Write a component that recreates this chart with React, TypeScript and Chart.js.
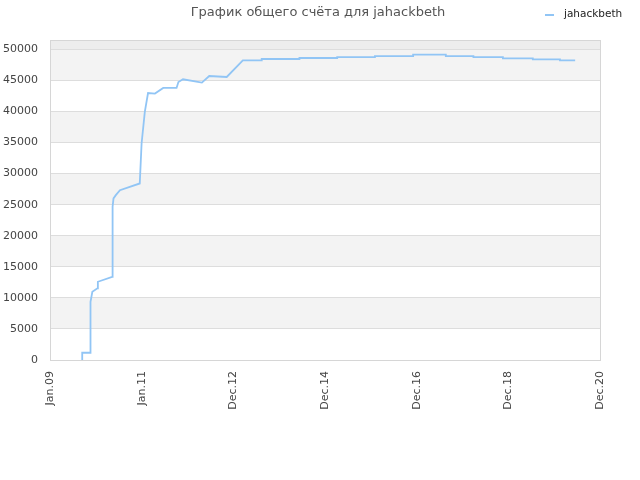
import { useEffect, useRef } from "react";
import Chart from "chart.js/auto";

const TITLE = "График общего счёта для jahackbeth";
const SERIES = "jahackbeth";
const xLabels = ["Jan.09", "Jan.11", "Dec.12", "Dec.14", "Dec.16", "Dec.18", "Dec.20"];

// decimal years
const dates = [
  2009.70, 2009.70, 2009.87, 2009.87, 2009.89, 2009.92, 2010.03, 2010.04, 2010.35, 2010.36,
  2010.38, 2010.43, 2010.52, 2010.95, 2010.99, 2011.06, 2011.13, 2011.28, 2011.46, 2011.75,
  2011.79, 2011.89, 2012.30, 2012.46, 2012.84, 2013.19, 2013.60, 2013.60, 2014.42, 2014.42,
  2015.24, 2015.24, 2016.06, 2016.06, 2016.89, 2016.89, 2017.60, 2017.60, 2018.20, 2018.20,
  2018.84, 2018.84, 2019.49, 2019.49, 2020.08, 2020.08, 2020.41,
];
const scores = [
  0, 1170, 1170, 5470, 9370, 10980, 11530, 12590, 13390, 24700,
  26000, 26530, 27330, 28410, 34840, 39920, 42970, 42880, 43780, 43780,
  44740, 45180, 44650, 45710, 45550, 48230, 48230, 48440, 48440, 48600,
  48600, 48760, 48760, 48920, 48920, 49150, 49150, 48920, 48920, 48760,
  48760, 48550, 48550, 48390, 48390, 48230, 48230,
];

const X_MIN = 2009.0;
const X_MAX = 2020.95;
const Y_MAX = 51500;
const LINE = "#91c5f5";
const FONT = "'DejaVu Sans', sans-serif";

const decor = {
  id: "decor",
  beforeDraw(chart: any) {
    const { ctx, chartArea: a, scales } = chart;
    const y = scales.y;
    ctx.save();
    ctx.fillStyle = "#ffffff";
    ctx.fillRect(0, 0, chart.width, chart.height);
    for (let k = 0; k * 5000 < Y_MAX; k++) {
      const lo = k * 5000;
      const hi = Math.min((k + 1) * 5000, Y_MAX);
      let fill = k % 2 === 1 ? "#f3f3f3" : "#ffffff";
      if (lo >= 50000) fill = "#ededed";
      const top = y.getPixelForValue(hi);
      const bot = y.getPixelForValue(lo);
      ctx.fillStyle = fill;
      ctx.fillRect(a.left, top, a.right - a.left, bot - top);
    }
    ctx.restore();
  },
  afterDraw(chart: any) {
    const { ctx, chartArea: a } = chart;
    ctx.save();
    ctx.strokeStyle = "#d6d6d6";
    ctx.lineWidth = 1;
    ctx.strokeRect(a.left + 0.5, a.top + 0.5, a.right - a.left, a.bottom - a.top);
    // title
    ctx.fillStyle = "#555555";
    ctx.font = "13px " + FONT;
    ctx.textAlign = "center";
    ctx.textBaseline = "middle";
    ctx.fillText(TITLE, 318, 13);
    // legend
    ctx.strokeStyle = LINE;
    ctx.lineWidth = 2;
    ctx.beginPath();
    ctx.moveTo(545, 15);
    ctx.lineTo(554, 15);
    ctx.stroke();
    ctx.fillStyle = "#222222";
    ctx.font = "10.5px " + FONT;
    ctx.textAlign = "left";
    ctx.fillText(SERIES, 564, 14);
    ctx.restore();
  },
};

const ScoreChart = () => {
  const chartRef: any = useRef(null);
  useEffect(() => {
    const ctx = chartRef.current.getContext("2d");
    const theChart = new Chart(ctx, {
      type: "line",
      data: {
        datasets: [
          {
            label: SERIES,
            data: dates.map((d, i) => ({ x: d, y: scores[i] })),
            borderColor: LINE,
            borderWidth: 1.8,
            pointRadius: 0,
            fill: false,
            tension: 0,
          },
        ],
      },
      options: {
        animation: false,
        responsive: true,
        maintainAspectRatio: false,
        layout: { padding: { top: 40, right: 40, left: 0, bottom: 0 } },
        plugins: {
          legend: { display: false },
          title: { display: false },
          tooltip: { enabled: false },
        },
        scales: {
          x: {
            type: "linear",
            min: X_MIN,
            max: X_MAX,
            afterBuildTicks(scale: any) {
              scale.ticks = xLabels.map((_, i) => ({
                value: X_MIN + ((X_MAX - X_MIN) * i) / (xLabels.length - 1),
              }));
            },
            afterFit(scale: any) {
              scale.height = 120;
            },
            grid: { display: false, drawTicks: false },
            border: { display: false },
            ticks: {
              autoSkip: false,
              minRotation: 90,
              maxRotation: 90,
              padding: 11,
              color: "#444444",
              font: { family: FONT, size: 11 },
              callback: (_v: any, i: number) => xLabels[i],
            },
          },
          y: {
            min: 0,
            max: Y_MAX,
            afterBuildTicks(scale: any) {
              const t = [];
              for (let v = 0; v <= 50000; v += 5000) t.push({ value: v });
              scale.ticks = t;
            },
            afterFit(scale: any) {
              scale.width = 50;
            },
            grid: { color: "#dddddd", drawTicks: false },
            border: { display: false },
            ticks: {
              padding: 12,
              color: "#444444",
              font: { family: FONT, size: 11 },
              callback: (v: any) => String(v),
            },
          },
        },
      },
      plugins: [decor],
    });
    return () => {
      theChart.destroy();
    };
  }, []);

  return <canvas ref={chartRef} />;
};

export default function App() {
  return (
    <div style={{ position: "absolute", left: 0, top: 0, width: 640, height: 480, background: "#fff" }}>
      <ScoreChart />
    </div>
  );
}
